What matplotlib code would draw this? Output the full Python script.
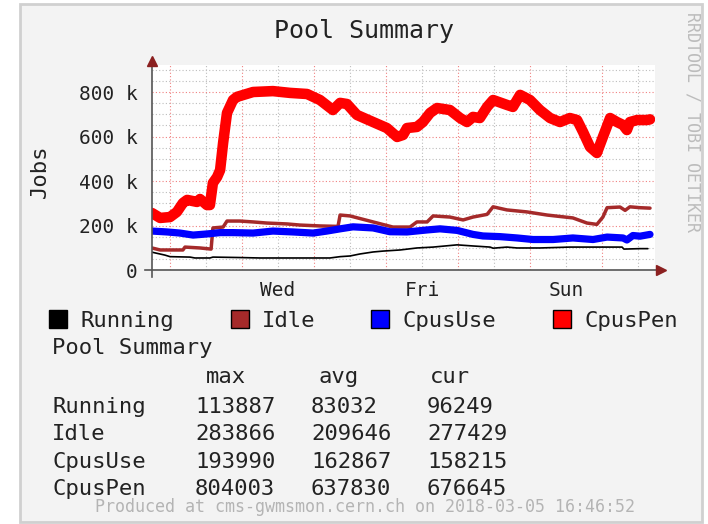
import matplotlib
matplotlib.use('Agg')
import matplotlib.pyplot as plt
from matplotlib.patches import Rectangle

# series: hours since left edge, values in thousands of jobs
running_h = [0, 4.3, 6, 12.7, 14.3, 19.3, 20.3, 29.3, 36, 59.3,
             62.7, 66, 69.3, 73.7, 77, 82.7, 88.3, 93.7, 101.7, 107,
             112.7, 113.7, 118.3, 121.7, 129.3, 139.3, 156.7, 157.3, 162.7, 165.3]
running_k = [80, 67, 60, 58, 54, 54, 58, 56, 54, 54,
             60, 63, 72, 81, 85, 90, 99, 103, 113, 108,
             103, 98, 103, 99, 99, 103, 103, 94, 96, 96]

idle_h = [0, 2.7, 10.3, 11, 16, 19.7, 20.3, 23.7, 25, 29.3,
          33.7, 38.3, 45, 49.3, 56, 62, 62.7, 66, 73.7, 80.3,
          86, 88.3, 91.7, 93.7, 99.3, 103.7, 107, 111.7, 113.7, 118.3,
          125, 131.7, 140.3, 145, 148.3, 150.3, 151.7, 156, 157.7, 159.3,
          162.7, 166]
idle_k = [99, 90, 90, 103, 99, 94, 189, 193, 220, 220,
          216, 211, 207, 202, 198, 196, 247, 243, 216, 193,
          193, 216, 216, 243, 238, 225, 238, 250, 284, 270,
          261, 247, 234, 211, 205, 238, 280, 283, 268, 284,
          280, 278]

cpususe_h = [0, 5, 9.3, 13.7, 18.3, 22.7, 27, 33.7, 40.3, 47,
             53.7, 58.3, 62.7, 67, 73.7, 79.3, 85, 91.7, 96, 101.7,
             107, 110.3, 116, 121.7, 127, 133.7, 140.3, 147, 151.7, 157,
             158.3, 160.3, 162.7, 166]
cpususe_k = [175, 171, 166, 157, 162, 168, 168, 166, 175, 171,
             166, 175, 185, 194, 189, 172, 171, 180, 185, 178,
             160, 153, 150, 144, 137, 137, 144, 137, 148, 144,
             135, 155, 152, 160]

cpuspen_h = [0, 2.7, 6, 8.3, 10.3, 11.7, 15, 16, 18.3, 19.3,
             20.3, 21.7, 22.7, 23.7, 25, 27, 28.3, 33.7, 40.3, 46,
             51.7, 56, 60.3, 62.7, 65, 68.3, 73.7, 78.3, 81.7, 83.7,
             85, 88.3, 90.3, 92.7, 95, 99.3, 102.7, 105, 107, 109.3,
             111.7, 113.7, 118.3, 120.3, 122.7, 126, 129.3, 132.7, 136, 139.3,
             141.7, 143.7, 146, 148.3, 150.3, 152.7, 155, 157, 158.3, 159.3,
             161.7, 165, 166]
cpuspen_k = [256, 234, 238, 261, 301, 315, 306, 319, 292, 292,
             391, 418, 449, 571, 706, 764, 778, 800, 804, 796,
             791, 764, 719, 751, 746, 697, 665, 638, 598, 607,
             638, 643, 665, 706, 728, 719, 683, 665, 688, 683,
             733, 764, 742, 733, 787, 764, 719, 683, 665, 683,
             674, 620, 553, 526, 598, 683, 665, 652, 629, 665,
             674, 674, 677]

names = ['Running', 'Idle', 'CpusUse', 'CpusPen']
colors = ['#000000', '#a52a2a', '#0000ff', '#ff0000']
widths = [1.2, 2.5, 5.2, 7.6]
stat_max = ['113887', '283866', '193990', '804003']
stat_avg = ['83032', '209646', '162867', '637830']
stat_cur = ['96249', '277429', '158215', '676645']

day_hours = [42, 90, 138]
day_labels = ['Wed', 'Fri', 'Sun']
y_ticks = [0, 200000, 400000, 600000, 800000]
y_labels = ['0', '200 k', '400 k', '600 k', '800 k']

W, H = 708, 524
def fx(x):
    return x / W
def fy(y):
    return 1 - y / H

MONO = 'DejaVu Sans Mono'
TXT = '#222222'
plt.rcParams['font.family'] = MONO

fig = plt.figure(figsize=(7.08, 5.24), dpi=100)
fig.patch.set_facecolor('white')
fig.patches.append(Rectangle((fx(20), fy(522)), fx(702) - fx(20), fy(4) - fy(522),
                             transform=fig.transFigure, facecolor='#f3f3f3',
                             edgecolor='#d0d0d0', lw=2, zorder=-5))

ax = fig.add_axes([fx(152), fy(270), (655 - 152) / W, (270 - 65) / H])
ax.set_zorder(2)
ax.set_facecolor('white')
ax.set_xlim(0, 503 / 3)
ax.set_ylim(0, 205 / 0.2225 * 1000)
for s in ax.spines.values():
    s.set_visible(False)

# grid: gray dotted minor, red dotted major
dots = (0, (1, 2))
for h in range(18, 168, 24):
    ax.axvline(h, color='#bdbdbd', ls=dots, lw=0.8, zorder=1)
for h in range(6, 168, 24):
    ax.axvline(h, color='#f08080', ls=dots, lw=0.8, zorder=1)
for v in range(50000, 921000, 50000):
    c = '#f08080' if v % 200000 == 0 else '#bdbdbd'
    ax.axhline(v, color=c, ls=dots, lw=0.8, zorder=1)

series = [(running_h, running_k), (idle_h, idle_k), (cpususe_h, cpususe_k), (cpuspen_h, cpuspen_k)]
for (hh, kk), c, w in zip(series, colors, widths):
    ax.plot(hh, [k * 1000 for k in kk], color=c, lw=w, zorder=3,
            solid_capstyle='round', solid_joinstyle='round')

# axes with arrows
ax.plot([(145 - 152) / 503, (660 - 152) / 503], [0, 0], color='#555555', lw=1.2,
        transform=ax.transAxes, clip_on=False, zorder=4)
ax.plot([0, 0], [(270 - 277) / 205, (270 - 62) / 205], color='#555555', lw=1.2,
        transform=ax.transAxes, clip_on=False, zorder=4)
ax.plot([(661 - 152) / 503], [0], marker='>', color='#8b2020', ms=7,
        transform=ax.transAxes, clip_on=False, zorder=5)
ax.plot([0], [(270 - 61) / 205], marker='^', color='#8b2020', ms=7,
        transform=ax.transAxes, clip_on=False, zorder=5)

ax.set_yticks(y_ticks)
ax.set_yticklabels(y_labels)
ax.set_xticks(day_hours)
ax.set_xticklabels(day_labels)
ax.tick_params(axis='y', length=0, pad=10.5, labelsize=14, labelcolor=TXT)
ax.tick_params(axis='x', length=0, pad=8, labelsize=14, labelcolor=TXT)

fig.text(fx(364), fy(38), 'Pool Summary', ha='center', va='baseline', fontsize=18, color=TXT)
fig.text(fx(40), fy(171), 'Jobs', rotation=90, ha='center', va='center', fontsize=16, color=TXT)
fig.text(fx(693), fy(122), 'RRDTOOL / TOBI OETIKER', rotation=270, ha='center', va='center',
         fontsize=12, color='#bcbcbc')

# legend
sq_x = [49, 231, 371, 553]
for name, c, x in zip(names, colors, sq_x):
    fig.patches.append(Rectangle((fx(x), fy(328)), 18 / W, 18 / H, transform=fig.transFigure,
                                 facecolor=c, edgecolor='black', lw=1, zorder=2))
    fig.text(fx(x + 31), fy(327), name, va='baseline', fontsize=16, color=TXT)

fig.text(fx(52), fy(354), 'Pool Summary', va='baseline', fontsize=16, color=TXT)
fig.text(fx(206), fy(383), 'max', va='baseline', fontsize=16, color=TXT)
fig.text(fx(318), fy(383), 'avg', va='baseline', fontsize=16, color=TXT)
fig.text(fx(430), fy(383), 'cur', va='baseline', fontsize=16, color=TXT)
row_y = [413, 440.5, 468, 495]
for name, mx, av, cu, y in zip(names, stat_max, stat_avg, stat_cur, row_y):
    fig.text(fx(52), fy(y), name, va='baseline', fontsize=16, color=TXT)
    fig.text(fx(195), fy(y), mx, va='baseline', fontsize=16, color=TXT)
    fig.text(fx(311), fy(y), av, va='baseline', fontsize=16, color=TXT)
    fig.text(fx(427), fy(y), cu, va='baseline', fontsize=16, color=TXT)

fig.text(fx(365), fy(512), 'Produced at cms-gwmsmon.cern.ch on 2018-03-05 16:46:52',
         ha='center', va='baseline', fontsize=12, color='#b4b4b4')

fig.savefig('out.png', dpi=100, facecolor=fig.get_facecolor())
